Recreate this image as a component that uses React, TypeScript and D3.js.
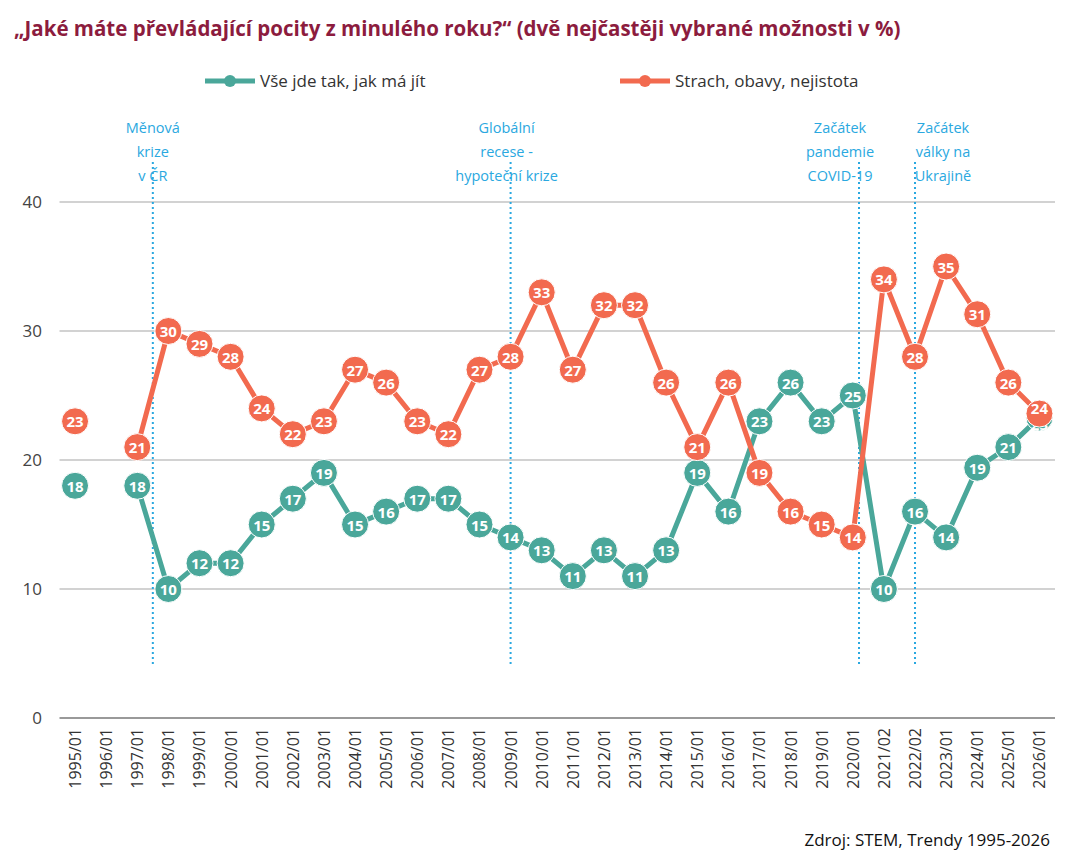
import * as d3 from 'd3';

const years = ['1995/01','1996/01','1997/01','1998/01','1999/01','2000/01','2001/01','2002/01','2003/01','2004/01','2005/01','2006/01','2007/01','2008/01','2009/01','2010/01','2011/01','2012/01','2013/01','2014/01','2015/01','2016/01','2017/01','2018/01','2019/01','2020/01','2021/02','2022/02','2023/01','2024/01','2025/01','2026/01'];
const vseJde: (number | null)[] = [18,null,18,10,12,12,15,17,19,15,16,17,17,15,14,13,11,13,11,13,19,16,23,26,23,25,10,16,14,19.4,21,23.3];
const strach: (number | null)[] = [23,null,21,30,29,28,24,22,23,27,26,23,22,27,28,33,27,32,32,26,21,26,19,16,15,14,34,28,35,31.3,26,23.6];
const yTicks = [0, 10, 20, 30, 40];
const events = [
  { at: 2.5, dx: 0, lines: ['Měnová', 'krize', 'v ČR'] },
  { at: 14, dx: -4, lines: ['Globální', 'recese -', 'hypoteční krize'] },
  { at: 25.2, dx: -19, lines: ['Začátek', 'pandemie', 'COVID-19'] },
  { at: 27, dx: 28, lines: ['Začátek', 'války na', 'Ukrajině'] },
];

const GREEN = '#4aa79a';
const RED = '#f26a4f';
const BLUE = '#2aa8e0';
const FONT = '"Open Sans", "Liberation Sans", sans-serif';

export default function App() {
  const W = 1084, H = 858;
  const x = d3.scaleBand<string>().domain(years).range([59.5, 1055]);
  const y = d3.scaleLinear().domain([0, 40]).range([718, 202]);
  const cx = (i: number) => x(years[0])! + x.bandwidth() / 2 + i * x.step();
  const line = d3.line<number | null>()
    .defined(d => d !== null)
    .x((_, i) => cx(i))
    .y(d => y(d as number));

  const last = years.length - 1;
  const series = [
    { data: vseJde, color: GREEN, lastDy: 7 },
    { data: strach, color: RED, lastDy: -6 },
  ];

  return (
    <svg width={W} height={H} style={{ position: 'absolute', left: 0, top: 0, fontFamily: FONT }}>
      <rect width={W} height={H} fill="#fff" />
      <text x={14} y={36} fill="#8c1c3e" fontWeight="bold" fontSize={20.5}>
        „Jaké máte převládající pocity z minulého roku?“ (dvě nejčastěji vybrané možnosti v %)
      </text>
      <g>
        <line x1={205} x2={255} y1={81} y2={81} stroke={GREEN} strokeWidth={5} />
        <circle cx={230} cy={81} r={6} fill={GREEN} />
        <text x={260} y={87} fontSize={17} fill="#333">Vše jde tak, jak má jít</text>
        <line x1={620} x2={670} y1={81} y2={81} stroke={RED} strokeWidth={5} />
        <circle cx={645} cy={81} r={6} fill={RED} />
        <text x={675} y={87} fontSize={17} fill="#333">Strach, obavy, nejistota</text>
      </g>
      {yTicks.map(t => (
        <g key={t}>
          <line x1={59.5} x2={1055} y1={y(t)} y2={y(t)} stroke={t === 0 ? '#777' : '#a6a6a6'} strokeWidth={t === 0 ? 1.5 : 1.2} />
          <text x={42} y={y(t) + 6} textAnchor="end" fontSize={17} fill="#444">{t}</text>
        </g>
      ))}
      {years.map((yr, i) => (
        <text key={yr} transform={`translate(${cx(i) + 6},728) rotate(-90)`} textAnchor="end" fontSize={16} fill="#333">{yr}</text>
      ))}
      {events.map((e, k) => {
        const ex = cx(e.at);
        return (
          <g key={k}>
            <line x1={ex} x2={ex} y1={162} y2={664} stroke={BLUE} strokeWidth={2} strokeDasharray="2,3" />
            {e.lines.map((l, j) => (
              <text key={j} x={ex + e.dx} y={133 + j * 24} textAnchor="middle" fontSize={14.5} fill={BLUE}>{l}</text>
            ))}
          </g>
        );
      })}
      {series.map((s, k) => (
        <g key={k}>
          <path d={line(s.data) || ''} fill="none" stroke={s.color} strokeWidth={5} strokeLinejoin="round" />
          {s.data.map((v, i) => v === null ? null : (
            <g key={i}>
              <circle cx={cx(i)} cy={y(v)} r={13.5} fill={s.color} stroke="#fff" strokeWidth={1} />
              <text x={cx(i)} y={y(v) + 6 + (i === last ? s.lastDy : 0)} textAnchor="middle" fontSize={15} fontWeight="bold" fill="#fff">{Math.round(v)}</text>
            </g>
          ))}
        </g>
      ))}
      <text x={1050} y={846} textAnchor="end" fontSize={17} fill="#111">Zdroj: STEM, Trendy 1995-2026</text>
    </svg>
  );
}
